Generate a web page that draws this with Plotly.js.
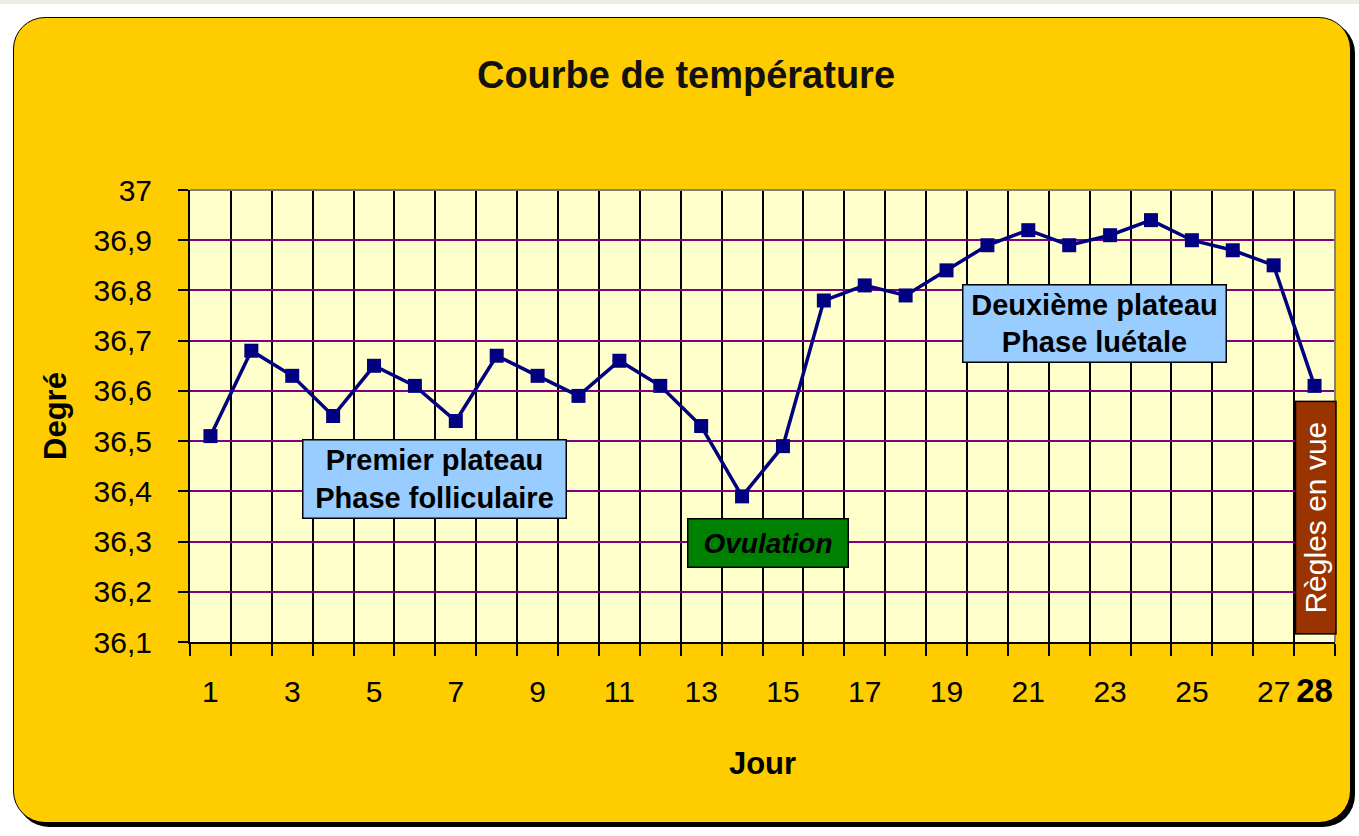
<!DOCTYPE html>
<html>
<head>
<meta charset="utf-8">
<script src="https://cdn.plot.ly/plotly-3.0.1.min.js"></script>
<style>
  html, body { margin:0; padding:0; background:#ffffff; width:1359px; height:836px; overflow:hidden; }
  #topstrip { position:absolute; left:0; top:0; width:1359px; height:4px; background:#ecebe4; }
  #frame { position:absolute; left:13px; top:17px; width:1336px; height:804px; background:#FFCC00;
           border:1.5px solid #000; border-radius:32px; box-shadow:4px 4px 0 #000; }
  #chart { position:absolute; left:0; top:0; width:1359px; height:836px; }
</style>
</head>
<body>
<div id="topstrip"></div>
<div id="frame"></div>
<div id="chart"></div>
<script>
// ---- data ----
const days  = [1,2,3,4,5,6,7,8,9,10,11,12,13,14,15,16,17,18,19,20,21,22,23,24,25,26,27,28];
const temps = [36.51,36.68,36.63,36.55,36.65,36.61,36.54,36.67,36.63,36.59,36.66,36.61,36.53,36.39,
               36.49,36.78,36.81,36.79,36.84,36.89,36.92,36.89,36.91,36.94,36.90,36.88,36.85,36.61];
const xTickVals = [1,3,5,7,9,11,13,15,17,19,21,23,25,27,28];
const xTickText = ['1','3','5','7','9','11','13','15','17','19','21','23','25','27',
                   '<b><span style="font-size:33px">28</span></b>'];
const chartTitle = 'Courbe de température';
const xTitle = 'Jour';
const yTitle = 'Degré';
const noteTexts = ['Premier plateau<br>Phase folliculaire', '<i>Ovulation</i>',
                   'Deuxième plateau<br>Phase luétale', 'Règles en vue'];

const FONT = 'Liberation Sans, Arial, sans-serif';

const trace = {
  x: days, y: temps, type:'scatter', mode:'lines+markers',
  line:{color:'#000080', width:3.5},
  marker:{symbol:'square', size:14, color:'#000080'},
  hoverinfo:'skip'
};

const layout = {
  width:1359, height:836,
  margin:{l:190, r:24, t:190, b:194},
  paper_bgcolor:'rgba(0,0,0,0)',
  plot_bgcolor:'#FFFFCC',
  separators:', ',
  showlegend:false,
  font:{family:FONT, color:'#000'},
  title:{text:chartTitle, x:686/1359, xref:'container', xanchor:'center', y:1-75/836, yanchor:'middle',
         font:{family:FONT, size:38, weight:'bold', color:'#111'}},
  xaxis:{
    range:[0.5, 28.5], tickmode:'array', tickvals:xTickVals, ticktext:xTickText,
    showgrid:false, zeroline:false, ticks:'', ticklabelstandoff:22,
    tickfont:{family:FONT, size:30, color:'#000'},
    showline:true, linecolor:'#000', linewidth:2,
    minor:{tickmode:'linear', tick0:0.5, dtick:1, ticks:'outside', ticklen:12, tickwidth:2,
           tickcolor:'#000', showgrid:true, gridcolor:'#000', gridwidth:2},
    title:{text:xTitle, standoff:44, font:{family:FONT, size:31, weight:'bold', color:'#000'}}
  },
  yaxis:{
    range:[36.1, 37], tickmode:'linear', tick0:36.1, dtick:0.1,
    ticks:'outside', ticklen:10, tickwidth:2, tickcolor:'#000', ticklabelstandoff:20,
    tickfont:{family:FONT, size:30, color:'#000'},
    showgrid:true, gridcolor:'#800080', gridwidth:2, zeroline:false,
    showline:true, linecolor:'#000', linewidth:2,
    title:{text:yTitle, standoff:18, font:{family:FONT, size:31, weight:'bold', color:'#000'}}
  },
  shapes:[
    {type:'path', xref:'paper', yref:'paper', path:'M 0 1 L 1 1 L 1 0', layer:'above',
     line:{color:'#808080', width:2}}
  ],
  annotations:[
    {x:6.49, y:36.4245, xref:'x', yref:'y', text:noteTexts[0], showarrow:false,
     bgcolor:'#99CCFF', bordercolor:'#000', borderwidth:1.5, borderpad:0, width:262, height:77,
     font:{family:FONT, size:29, weight:'bold', color:'#000'}},
    {x:14.64, y:36.298, xref:'x', yref:'y', text:noteTexts[1], showarrow:false,
     bgcolor:'#008000', bordercolor:'#000', borderwidth:1.5, borderpad:0, width:159, height:47,
     font:{family:FONT, size:28, weight:'bold', color:'#000'}},
    {x:22.63, y:36.735, xref:'x', yref:'y', text:noteTexts[2], showarrow:false,
     bgcolor:'#99CCFF', bordercolor:'#000', borderwidth:1.5, borderpad:0, width:262, height:76,
     font:{family:FONT, size:29, weight:'bold', color:'#000'}},
    {x:28.04, y:36.348, xref:'x', yref:'y', text:noteTexts[3], showarrow:false, textangle:-90,
     bgcolor:'#993300', bordercolor:'#000', borderwidth:1.5, borderpad:0, width:231, height:39,
     font:{family:FONT, size:30, color:'#fff'}}
  ]
};

Plotly.newPlot('chart', [trace], layout, {displayModeBar:false, staticPlot:true});
</script>
</body>
</html>
